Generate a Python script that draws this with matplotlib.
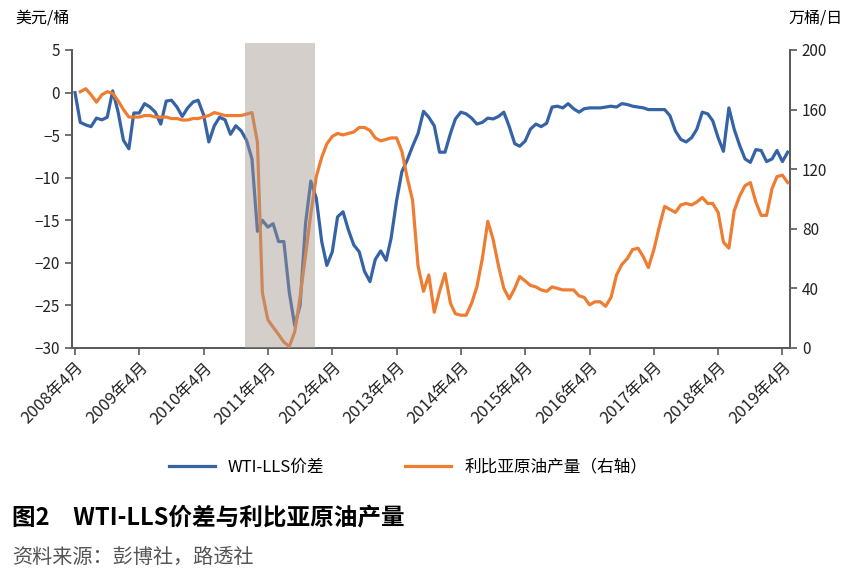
import numpy as np
import pandas as pd
import matplotlib
matplotlib.use('Agg')
import matplotlib.pyplot as plt

plt.rcParams['font.family'] = ['Noto Sans CJK SC', 'DejaVu Sans']

# monthly data, 2008-04 .. 2019-05
months = pd.date_range('2008-04-01', periods=134, freq='MS')

wti_lls = [
    0.0, -3.5, -3.8, -4.0, -3.0, -3.2, -2.9, 0.2, -2.2, -5.6,
    -6.6, -2.4, -2.4, -1.3, -1.7, -2.3, -3.7, -1.0, -0.9, -1.7,
    -2.8, -1.8, -1.1, -0.9, -2.6, -5.8, -3.9, -2.9, -3.2, -4.9,
    -3.9, -4.5, -5.6, -7.8, -16.3, -15.0, -15.8, -15.4, -17.5, -17.5,
    -23.5, -27.4, -25.0, -15.4, -10.4, -12.4, -17.5, -20.3, -18.7, -14.6,
    -14.0, -16.1, -17.9, -18.7, -21.0, -22.2, -19.6, -18.6, -19.7, -17.1,
    -12.7, -9.3, -7.9, -6.3, -4.8, -2.2, -2.9, -3.9, -7.0, -7.0,
    -4.8, -3.1, -2.3, -2.5, -3.0, -3.7, -3.5, -3.0, -3.1, -2.8,
    -2.3, -4.0, -6.0, -6.3, -5.7, -4.3, -3.7, -4.0, -3.6, -1.7,
    -1.6, -1.8, -1.3, -1.9, -2.3, -1.9, -1.8, -1.8, -1.8, -1.7,
    -1.6, -1.7, -1.3, -1.4, -1.6, -1.7, -1.8, -2.0, -2.0, -2.0,
    -2.0, -2.7, -4.5, -5.5, -5.8, -5.3, -4.3, -2.3, -2.5, -3.3,
    -5.3, -6.9, -1.8, -4.3, -6.2, -7.8, -8.2, -6.7, -6.8, -8.1,
    -7.8, -6.8, -8.1, -7.0,
]

libya_output = [
    np.nan, 172, 174, 170, 165, 170, 172, 171, 166, 160,
    155, 155, 155, 156, 156, 155, 155, 155, 154, 154,
    153, 153, 154, 154, 155, 156, 158, 157, 156, 156,
    156, 156, 157, 158, 138, 37, 19, 14, 9, 4,
    1, 11, 34, 62, 90, 115, 128, 137, 142, 144,
    143, 144, 145, 148, 148, 146, 141, 139, 140, 141,
    141, 132, 114, 99, 55, 38, 49, 24, 38, 50,
    30, 23, 22, 22, 30, 41, 60, 85, 73, 55,
    40, 33, 40, 48, 45, 42, 41, 39, 38, 41,
    40, 39, 39, 39, 35, 34, 29, 31, 31, 28,
    34, 49, 56, 60, 66, 67, 61, 54, 66, 81,
    95, 93, 91, 96, 97, 96, 98, 101, 97, 97,
    91, 71, 67, 92, 102, 109, 111, 98, 89, 89,
    107, 115, 116, 111,
]

tick_dates = pd.date_range('2008-04-01', '2019-04-01', freq='12MS')
tick_labels = [f'{d.year}年4月' for d in tick_dates]

shade_start = pd.Timestamp('2010-11-20')
shade_end = pd.Timestamp('2011-12-25')

blue = '#3563a5'
orange = '#ee7d32'
spine_c = '#5a5a5a'

fig = plt.figure(figsize=(8.52, 5.76), dpi=100)
ax = fig.add_axes([72/852, 1-348/576, (790-72)/852, (348-50)/576])
ax2 = ax.twinx()

ax.plot(months, wti_lls, color=blue, lw=2.3, zorder=3)
ax2.plot(months, libya_output, color=orange, lw=2.3, zorder=3)
ax2.axvspan(shade_start, shade_end, ymin=0, ymax=1.025, color='#a3968f',
            alpha=0.45, lw=0, zorder=5, clip_on=False)

ax.set_ylim(-30, 5)
ax.set_yticks(np.arange(-30, 6, 5))
ax2.set_ylim(0, 200)
ax2.set_yticks(np.arange(0, 201, 40))
ax.set_xlim(pd.Timestamp('2008-03-15'), pd.Timestamp('2019-05-14'))
ax.set_xticks(tick_dates)
ax.set_xticklabels(tick_labels, rotation=45, ha='right', rotation_mode='anchor')

for a in (ax, ax2):
    a.spines['top'].set_visible(False)
    for s in ('left', 'right', 'bottom'):
        a.spines[s].set_color(spine_c)
        a.spines[s].set_linewidth(1.3)
    a.tick_params(colors=spine_c, labelcolor='#222222', labelsize=11,
                  width=1.2, length=5, direction='out')
ax.tick_params(axis='x', labelsize=12, pad=3)

fig.text(15/852, 1-18/576, '美元/桶', fontsize=11.5, va='center', ha='left')
fig.text(843/852, 1-18/576, '万桶/日', fontsize=11.5, va='center', ha='right')

h1, = ax.plot([], [], color=blue, lw=2.3)
h2, = ax.plot([], [], color=orange, lw=2.3)
fig.legend([h1, h2], ['WTI-LLS价差', '利比亚原油产量（右轴）'],
           loc='center', bbox_to_anchor=(0.479, 1-467/576), ncol=2,
           frameon=False, fontsize=12, handlelength=2.75,
           columnspacing=4.85, handletextpad=0.8)

fig.text(12/852, 1-518/576, '图2　WTI-LLS价差与利比亚原油产量',
         fontsize=17, fontweight='bold', va='center', ha='left')
fig.text(12/852, 1-557/576, '资料来源：彭博社，路透社',
         fontsize=14.5, color='#555555', va='center', ha='left')

fig.savefig('out.png', dpi=100)
